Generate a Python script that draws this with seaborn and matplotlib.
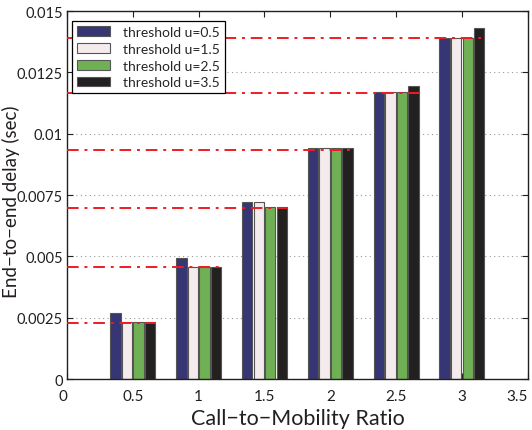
"""
End-to-end delay vs call-to-mobility ratio, grouped bars per threshold
"""

import pandas as pd
import matplotlib
matplotlib.use("Agg")
import matplotlib.pyplot as plt
import seaborn as sns

# Chart data
ratios = [0.5, 1.0, 1.5, 2.0, 2.5, 3.0]
thresholds = ["threshold u=0.5", "threshold u=1.5", "threshold u=2.5", "threshold u=3.5"]
delay_u05 = [0.00269, 0.00492, 0.00720, 0.00942, 0.01171, 0.01391]
delay_u15 = [0.00231, 0.00459, 0.00720, 0.00942, 0.01171, 0.01391]
delay_u25 = [0.00231, 0.00459, 0.00700, 0.00942, 0.01171, 0.01391]
delay_u35 = [0.00231, 0.00459, 0.00700, 0.00942, 0.01193, 0.01432]
analytic_delay = [0.00230, 0.00457, 0.00697, 0.00934, 0.01165, 0.01389]
bar_colors = ["#2b2b80", "#f6eaea", "#6abf45", "#231f20"]
x_ticks = [0, 0.5, 1, 1.5, 2, 2.5, 3, 3.5]
x_labels = ["0", "0.5", "1", "1.5", "2", "2.5", "3", "3.5"]
y_ticks = [0, 0.0025, 0.005, 0.0075, 0.01, 0.0125, 0.015]
y_labels = ["0", "0.0025", "0.005", "0.0075", "0.01", "0.0125", "0.015"]

rows = []
for name, vals in zip(thresholds, [delay_u05, delay_u15, delay_u25, delay_u35]):
    for r, v in zip(ratios, vals):
        rows.append({"ratio": r, "delay": v, "threshold": name})
df = pd.DataFrame(rows)

sns.set_style("white")
plt.rcParams["font.family"] = ["Lato", "DejaVu Sans"]

fig = plt.figure(figsize=(5.32, 4.31), dpi=100)
ax = fig.add_axes([0.126, 0.118, 0.866, 0.854])

ax.yaxis.grid(True, linestyle=(0, (1, 3)), color="#999999", linewidth=0.8)
ax.set_axisbelow(True)

sns.barplot(
    data=df, x="ratio", y="delay", hue="threshold",
    hue_order=thresholds, palette=bar_colors, native_scale=True,
    width=0.7, gap=0.1, edgecolor="#555555", linewidth=0.8, ax=ax,
)

# analytic reference lines, from the y axis to the right end of each group
group_half = 0.35 / 2
for r, v in zip(ratios, analytic_delay):
    ax.hlines(v, 0, r + group_half, colors="#ee1c24", linestyles=(0, (6, 3, 1.5, 3)),
              linewidth=1.4, zorder=5)

ax.set_xlim(0, 3.5)
ax.set_ylim(0, 0.015)
ax.set_xticks(x_ticks)
ax.set_xticklabels(x_labels)
ax.set_yticks(y_ticks)
ax.set_yticklabels(y_labels)
ax.tick_params(direction="in", length=4, width=0.8, labelsize=10.5, colors="#231f20",
               top=True, right=True, bottom=True, left=True)
ax.tick_params(axis="x", labelsize=11, pad=7)
ax.tick_params(axis="y", pad=3)
# matlab-style: the end labels sit a bit inside the axis ends
xt = ax.get_xticklabels()
xt[0].set_horizontalalignment("right")
xt[-1].set_horizontalalignment("right")
for s in ax.spines.values():
    s.set_visible(True)
    s.set_color("#231f20")
    s.set_linewidth(1.0)

ax.set_xlabel("Call\u2212to\u2212Mobility Ratio", fontsize=15.5, color="#231f20", labelpad=4)
ax.set_ylabel("End\u2212to\u2212end delay (sec)", fontsize=13.5, color="#231f20")
ax.yaxis.set_label_coords(-0.102, 0.484)

leg = ax.legend(loc="upper left", bbox_to_anchor=(0.011, 0.973), borderaxespad=0,
                fontsize=10, frameon=True, fancybox=False,
                framealpha=1, edgecolor="black", handlelength=2.4, handleheight=0.7,
                labelspacing=0.35, borderpad=0.35, handletextpad=0.9)
leg.get_frame().set_linewidth(0.9)

plt.savefig("out.png", dpi=100)
plt.close()
